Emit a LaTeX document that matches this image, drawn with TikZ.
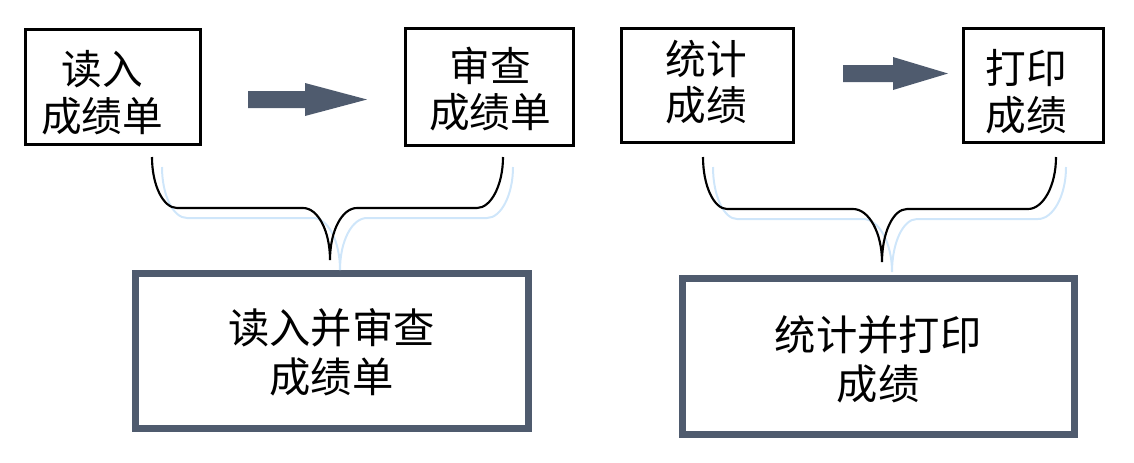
\documentclass[tikz,border=0pt]{standalone}
\usepackage{fontspec}
\newfontfamily\cjk{Noto Sans CJK SC}
\definecolor{slate}{HTML}{4F5B6E}
\definecolor{shadowblue}{HTML}{CFE6FA}
\tikzset{
  smallbox/.style={draw=black, line width=2.25pt, fill=none, inner sep=0pt},
  bigbox/.style={draw=slate, line width=5.25pt, inner sep=0pt},
  smalltext/.style={font=\cjk\fontsize{30.5}{35}\selectfont, align=center, inner sep=0pt},
  bigtext/.style={font=\cjk\fontsize{31}{37}\selectfont, align=center, inner sep=0pt},
  blockarrow/.style={fill=slate, draw=none},
  bracemain/.style={draw=black, line width=1.6pt},
  braceshadow/.style={draw=shadowblue, line width=1.5pt},
}
\begin{document}
\begin{tikzpicture}[x=0.75pt, y=-0.75pt]
\useasboundingbox (0,0) rectangle (1134,462);
% top boxes
\node[smallbox, minimum width=175*0.75pt, minimum height=115*0.75pt] (b1) at (112.5,86.5) {};
\node[smalltext] (t1) at (102,93) {读入\\成绩单};
\node[smallbox, minimum width=168*0.75pt, minimum height=117*0.75pt] (b2) at (489,86.5) {};
\node[smalltext] (t2) at (490,89) {审查\\成绩单};
\node[smallbox, minimum width=172*0.75pt, minimum height=114*0.75pt] (b3) at (707,85) {};
\node[smalltext] (t3) at (706.5,82) {统计\\成绩};
\node[smallbox, minimum width=140*0.75pt, minimum height=114*0.75pt] (b4) at (1033,85) {};
\node[smalltext] (t4) at (1026.5,92) {打印\\成绩};
% bottom boxes
\node[bigbox, minimum width=393*0.75pt, minimum height=155*0.75pt] (c1) at (332,351) {};
\node[bigtext] (u1) at (331.5,352) {读入并审查\\成绩单};
\node[bigbox, minimum width=392*0.75pt, minimum height=156*0.75pt] (c2) at (878.5,356.5) {};
\node[bigtext] (u2) at (878,359.5) {统计并打印\\成绩};
% block arrows
\fill[blockarrow] (248,91) -- (305,91) -- (305,83) -- (367,99.5) -- (305,116) -- (305,108) -- (248,108) -- cycle;
\fill[blockarrow] (843,65) -- (893,65) -- (893,57) -- (948,73.5) -- (893,90) -- (893,82) -- (843,82) -- cycle;
% braces (shadow first)
\foreach \s/\st in {10/braceshadow, 0/bracemain}{
  \begin{scope}[shift={(\s,\s)}]
  \draw[\st] (152,157) .. controls (152,185) and (163,208) .. (177,208) -- (303,208)
     .. controls (318,208) and (330,231) .. (330,260)
     .. controls (330,231) and (342,208) .. (357,208) -- (477,208)
     .. controls (491,208) and (503,185) .. (503,157);
  \draw[\st] (703,157) .. controls (703,186) and (714,209) .. (727,209) -- (853,209)
     .. controls (869,209) and (882,233) .. (882,262)
     .. controls (882,233) and (893,209) .. (907,209) -- (1028,209)
     .. controls (1043,209) and (1056,186) .. (1056,157);
  \end{scope}
}
\end{tikzpicture}
\end{document}
